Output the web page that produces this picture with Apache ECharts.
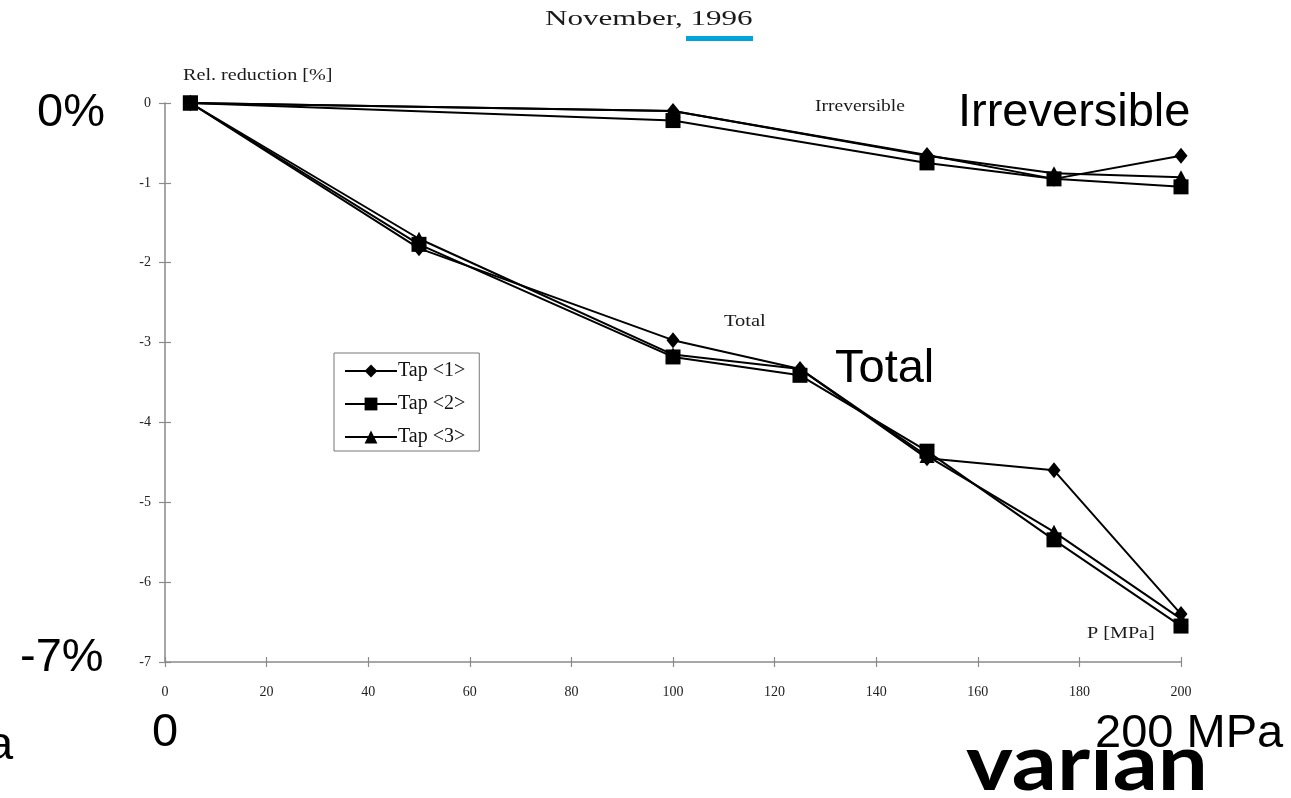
<!DOCTYPE html>
<html>
<head>
<meta charset="utf-8">
<script src="https://cdn.jsdelivr.net/npm/echarts@6/dist/echarts.min.js"></script>
<style>
  html, body { margin: 0; padding: 0; background: #ffffff; }
  #chart { width: 1291px; height: 798px; }
</style>
</head>
<body>
<div id="chart"></div>
<script>
// Pressure steps [MPa] for the two measurement runs
const pressureTotal = [5, 50, 100, 125, 150, 175, 200];
const pressureIrrev = [5, 100, 150, 175, 200];

// Relative reduction [%] per tap, total (loaded) state
const totalTap1 = [0, -1.82, -2.97, -3.33, -4.45, -4.60, -6.40];
const totalTap2 = [0, -1.77, -3.18, -3.41, -4.36, -5.47, -6.55];
const totalTap3 = [0, -1.70, -3.15, -3.33, -4.42, -5.37, -6.46];

// Relative reduction [%] per tap, irreversible (after unloading)
const irrevTap1 = [0, -0.10, -0.65, -0.95, -0.66];
const irrevTap2 = [0, -0.22, -0.75, -0.95, -1.05];
const irrevTap3 = [0, -0.10, -0.66, -0.88, -0.93];

const tapNames = ['Tap <1>', 'Tap <2>', 'Tap <3>'];
const tapSymbols = ['diamond', 'rect', 'triangle'];
const tapSymbolSizes = [[13, 16], [15, 15], [15, 14]];

const xTicks = [0, 20, 40, 60, 80, 100, 120, 140, 160, 180, 200];
const yTicks = [0, -1, -2, -3, -4, -5, -6, -7];

const SERIF = '"Liberation Serif", "Times New Roman", serif';
const SANS = '"Liberation Sans", Arial, sans-serif';

function pairs(xs, ys) { return xs.map((x, i) => [x, ys[i]]); }

const totals = [totalTap1, totalTap2, totalTap3];
const irrevs = [irrevTap1, irrevTap2, irrevTap3];

const series = [];
tapNames.forEach((name, i) => {
  [pairs(pressureTotal, totals[i]), pairs(pressureIrrev, irrevs[i])].forEach(data => {
    series.push({
      name: name,
      type: 'line',
      data: data,
      symbol: tapSymbols[i],
      symbolSize: tapSymbolSizes[i],
      showAllSymbol: true,
      lineStyle: { color: '#000', width: 2 },
      itemStyle: { color: '#000' },
      animation: false,
      z: 3
    });
  });
});

const axisGray = '#8a8a8a';

// Horizontally widened serif caption placed at (x, y)
function serifCaption(text, x, y, size, sx) {
  return { type: 'text', x: x, y: y, scaleX: sx, z: 5,
           style: { text: text, x: 0, y: 0, font: size + 'px ' + SERIF, fill: '#1a1a1a' } };
}
// Large slide caption
function sansCaption(text, x, y) {
  return { type: 'text', x: x, y: y, z: 5,
           style: { text: text, x: 0, y: 0, font: '47px ' + SANS, fill: '#000' } };
}

const chart = echarts.init(document.getElementById('chart'), null, { renderer: 'canvas' });
chart.setOption({
  backgroundColor: '#ffffff',
  animation: false,
  grid: { left: 165, right: 110, top: 103, bottom: 136, containLabel: false },
  xAxis: [
    {
      type: 'value', min: 0, max: 200, interval: 20, position: 'bottom',
      axisLine: { show: true, onZero: false, lineStyle: { color: axisGray, width: 1.5 } },
      axisTick: { show: true, length: 5, lineStyle: { color: axisGray, width: 1.2 } },
      axisLabel: {
        margin: 23, color: '#222', fontFamily: SERIF, fontSize: 14,
        formatter: v => (xTicks.indexOf(v) >= 0 ? String(v) : '')
      },
      splitLine: { show: false }
    },
    {
      type: 'value', min: 0, max: 200, interval: 20, position: 'bottom',
      axisLine: { show: false, onZero: false },
      axisTick: { show: true, inside: true, length: 5, lineStyle: { color: axisGray, width: 1.2 } },
      axisLabel: { show: false },
      splitLine: { show: false }
    }
  ],
  yAxis: [
    {
      type: 'value', min: -7, max: 0, interval: 1, position: 'left',
      axisLine: { show: true, onZero: false, lineStyle: { color: axisGray, width: 1.5 } },
      axisTick: { show: true, length: 6, lineStyle: { color: axisGray, width: 1.2 } },
      axisLabel: {
        margin: 14, color: '#222', fontFamily: SERIF, fontSize: 14,
        formatter: v => (yTicks.indexOf(v) >= 0 ? String(v) : '')
      },
      splitLine: { show: false }
    },
    {
      type: 'value', min: -7, max: 0, interval: 1, position: 'left',
      axisLine: { show: false, onZero: false },
      axisTick: { show: true, inside: true, length: 6, lineStyle: { color: axisGray, width: 1.2 } },
      axisLabel: { show: false },
      splitLine: { show: false }
    }
  ],
  legend: {
    data: tapNames,
    orient: 'vertical',
    left: 334, top: 353,
    padding: [8, 14, 4, 10],
    itemWidth: 52, itemHeight: 16, itemGap: 13,
    borderColor: '#777', borderWidth: 1,
    backgroundColor: '#fff',
    textStyle: { fontFamily: SERIF, fontSize: 20, color: '#111', padding: [0, 0, 0, -4] },
    selectedMode: false
  },
  series: series,
  graphic: [
    // Header line with highlighted year
    serifCaption('November, 1996', 545, 9, 21, 1.48),
    { type: 'rect', shape: { x: 686, y: 36, width: 67, height: 5 }, style: { fill: '#00a4d9' } },
    // Axis titles in the plot
    serifCaption('Rel. reduction [%]', 183, 68, 16, 1.26),
    serifCaption('P [MPa]', 1087, 626, 16, 1.26),
    // Curve captions
    serifCaption('Irreversible', 815, 99, 16, 1.22),
    serifCaption('Total', 724, 314, 16, 1.28),
    // Large slide captions
    sansCaption('Irreversible', 958, 90),
    sansCaption('Total', 835, 346),
    sansCaption('0%', 37, 90),
    sansCaption('-7%', 20, 635),
    sansCaption('0', 152, 710),
    sansCaption('a', -13, 723),
    // Company wordmark, with a white patch keeping its upper part clear below the caption
    { type: 'text', x: 966, y: 726, scaleX: 1.14, z: 4,
      style: { text: 'varian', x: 0, y: 0, font: 'bold 78px Lato, ' + SANS, fill: '#000' } },
    { type: 'rect', z: 4.5, shape: { x: 1075, y: 712, width: 55, height: 35 }, style: { fill: '#fff' } },
    { type: 'text', x: 1095, y: 711, z: 6,
      style: { text: '200 MPa', x: 0, y: 0, font: '47px ' + SANS, fill: '#000' } }
  ]
});
</script>
</body>
</html>
